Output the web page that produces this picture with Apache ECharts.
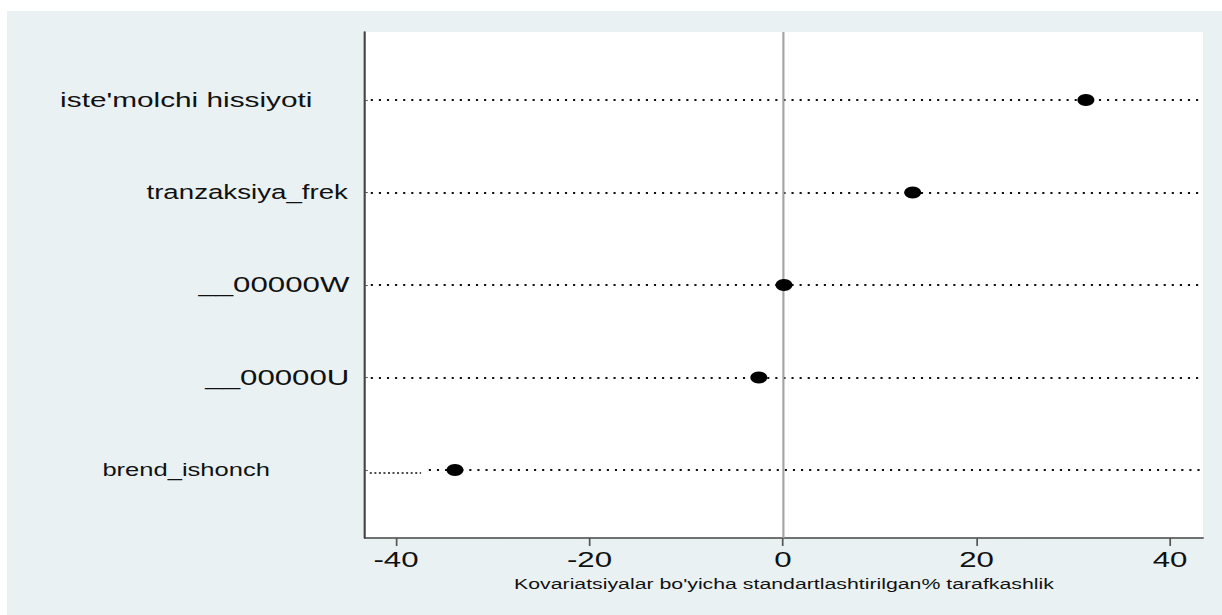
<!DOCTYPE html>
<html>
<head>
<meta charset="utf-8">
<script src="https://cdn.jsdelivr.net/npm/echarts@6/dist/echarts.min.js"></script>
<style>
  html, body { margin: 0; padding: 0; background: #ffffff; overflow: hidden; width: 1222px; height: 615px; }
  #chart { position: absolute; left: 7px; top: 11px; width: 856px; height: 604px;
           transform: scaleX(1.4194); transform-origin: 0 0; }
</style>
</head>
<body>
<div id="chart"></div>
<script>
// ---- data ----
const categories = ["iste'molchi hissiyoti", "tranzaksiya_frek", "__00000W", "__00000U", "brend_ishonch"];
const biasValues = [31.3, 13.4, 0.1, -2.5, -33.9];
const xTickValues = [-40, -20, 0, 20, 40];
const lineStartValues = [-42.6, -42.6, -42.6, -42.6, -36.6];
const brendTailRange = [-42.7, -37.4];
const axisTitle = "Kovariatsiyalar bo'yicha standartlashtirilgan% tarafkashlik";

const X_MIN = -43.2, X_MAX = 43.4;
const catIdx = categories.map((c, i) => i);

// per-label font size and right spacing (labels differ in the reference)
const labelFont = [21, 19.5, 22, 22, 18];
const labelPad = [31, 6, 5, 5, 61];
const rich = {};
catIdx.forEach(i => {
  rich['c' + i] = { fontSize: labelFont[i], color: '#111', fontFamily: 'Liberation Sans',
                    padding: [0, labelPad[i], 0, 0] };
});

const dottedLines = catIdx.map(i => [
  { coord: [lineStartValues[i], i] },
  { coord: [X_MAX, i] }
]);

const chart = echarts.init(document.getElementById('chart'), null, { renderer: 'svg' });
chart.setOption({
  backgroundColor: '#e9f1f3',
  animation: false,
  textStyle: { fontFamily: 'Liberation Sans' },
  grid: { left: 252.2, right: 13.4, top: 21, bottom: 77, show: true,
          backgroundColor: '#ffffff', borderWidth: 0 },
  xAxis: {
    type: 'value', min: X_MIN, max: X_MAX,
    axisLine: { show: true, onZero: false, lineStyle: { color: '#444', width: 1.5 } },
    axisTick: { show: true, customValues: xTickValues, length: 8, lineStyle: { color: '#555', width: 1.2 } },
    axisLabel: { customValues: xTickValues, fontSize: 22, color: '#111', margin: 11,
                 fontFamily: 'Liberation Sans' },
    splitLine: { show: false },
    name: axisTitle, nameLocation: 'middle', nameGap: 37,
    nameTextStyle: { fontSize: 15, color: '#111', fontFamily: 'Liberation Sans' }
  },
  yAxis: {
    type: 'value', inverse: true, min: -0.735, max: 4.735,
    axisLine: { show: true, onZero: false, lineStyle: { color: '#444', width: 1.5 } },
    axisTick: { show: true, inside: true, length: 2, customValues: catIdx, lineStyle: { color: '#555' } },
    axisLabel: { customValues: catIdx, margin: 6, rich: rich,
                 formatter: v => { const i = Math.round(v); return '{c' + i + '|' + categories[i] + '}'; } },
    splitLine: { show: false }
  },
  series: [
    {
      type: 'scatter', data: [], z: 1, silent: true,
      markLine: {
        silent: true, symbol: 'none', label: { show: false }, animation: false,
        lineStyle: { color: '#111', width: 1.8, type: [1.5, 4.2], opacity: 1 },
        data: dottedLines.concat([
          [ { coord: [brendTailRange[0], 4.035], lineStyle: { type: [1.4, 1.8], width: 1.6, color: '#111' } },
            { coord: [brendTailRange[1], 4.035] } ]
        ])
      }
    },
    {
      type: 'scatter', data: [], z: 2, silent: true,
      markLine: {
        silent: true, symbol: 'none', label: { show: false }, animation: false,
        lineStyle: { color: '#a3a3a3', width: 1.5, type: 'solid', opacity: 1 },
        data: [{ xAxis: 0 }]
      }
    },
    {
      type: 'scatter', z: 5,
      symbol: 'circle', symbolSize: 12,
      itemStyle: { color: '#000000', opacity: 1 },
      data: biasValues.map((v, i) => [v, i])
    }
  ]
});
</script>
</body>
</html>
